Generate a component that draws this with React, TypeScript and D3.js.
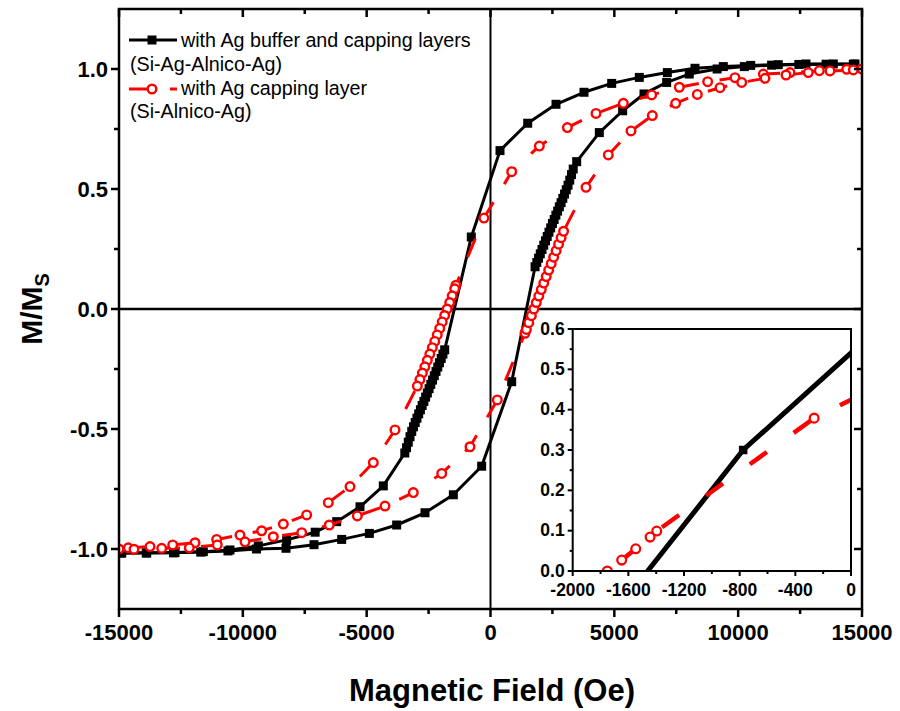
import React from 'react';
import * as d3 from 'd3';

// Black: with Ag buffer and capping layers (H in Oe, M/Ms)
const blackDown: [number, number][] = [
  [14717, 1.021], [13841, 1.021], [12738, 1.021], [11620, 1.018], [10506, 1.015], [9400, 1.01],
  [8257, 1.003], [7140, 0.985], [6008, 0.965], [4893, 0.94], [3775, 0.903], [2645, 0.853],
  [1502, 0.774], [384, 0.66], [-775, 0.3],
  [-1850, -0.17], [-1920, -0.188], [-1990, -0.206], [-2060, -0.224], [-2130, -0.242], [-2200, -0.26],
  [-2270, -0.278], [-2340, -0.296], [-2410, -0.314], [-2480, -0.332], [-2550, -0.35], [-2620, -0.367],
  [-2690, -0.385], [-2760, -0.402], [-2830, -0.42], [-2900, -0.437], [-2970, -0.455], [-3040, -0.473],
  [-3110, -0.491], [-3180, -0.51], [-3250, -0.532], [-3320, -0.555], [-3390, -0.578], [-3460, -0.6],
  [-4328, -0.737], [-5269, -0.824], [-6211, -0.886], [-7080, -0.93], [-8230, -0.962], [-9375, -0.987],
  [-10518, -1.004], [-11596, -1.011], [-12739, -1.015], [-13881, -1.016], [-14890, -1.017],
];

const blackUp: [number, number][] = [
  [-14950, -1.017], [-13900, -1.017], [-12800, -1.016], [-11700, -1.013], [-10600, -1.008], [-9450, -1.0],
  [-8257, -0.997], [-7127, -0.982], [-6009, -0.96], [-4892, -0.935], [-3789, -0.9], [-2645, -0.849],
  [-1500, -0.774], [-357, -0.655], [855, -0.303],
  [1800, 0.176], [1870, 0.194], [1940, 0.212], [2010, 0.23], [2080, 0.248], [2150, 0.266],
  [2220, 0.284], [2290, 0.302], [2360, 0.32], [2430, 0.338], [2500, 0.356], [2570, 0.373],
  [2640, 0.391], [2710, 0.408], [2780, 0.426], [2850, 0.443], [2920, 0.461], [2990, 0.479],
  [3060, 0.497], [3130, 0.516], [3200, 0.537], [3270, 0.56], [3340, 0.583], [3480, 0.614],
  [4394, 0.735], [5336, 0.826], [6198, 0.896], [7113, 0.944], [8026, 0.979], [9150, 1.0],
  [10250, 1.01], [11350, 1.016], [12450, 1.019], [13550, 1.02], [14650, 1.02],
];

// Red: with Ag capping layer
const redDown: [number, number][] = [
  [15000, 1.0], [14383, 0.999], [13277, 0.993], [12093, 0.985], [11016, 0.979], [9872, 0.964],
  [8768, 0.947], [7623, 0.924], [6508, 0.892], [5363, 0.857], [4260, 0.815], [3103, 0.756],
  [1972, 0.679], [855, 0.572], [-265, 0.379],
  [-1396, 0.099], [-1444, 0.084], [-1547, 0.055], [-1648, 0.027], [-1751, 0.0], [-1850, -0.027],
  [-1950, -0.054], [-2050, -0.081], [-2150, -0.108], [-2250, -0.135], [-2350, -0.161], [-2450, -0.188],
  [-2550, -0.214], [-2650, -0.241], [-2750, -0.267], [-2850, -0.294], [-2954, -0.321],
  [-3856, -0.504], [-4731, -0.64], [-5673, -0.74], [-6549, -0.807], [-7422, -0.858], [-8365, -0.896],
  [-9240, -0.924], [-10115, -0.942], [-11056, -0.96], [-11931, -0.974], [-12832, -0.983],
  [-13748, -0.99], [-14624, -0.995],
];

const redUp: [number, number][] = [
  [-15000, -1.0], [-14394, -1.001], [-13276, -0.997], [-12162, -0.995], [-11031, -0.983], [-9912, -0.97],
  [-8770, -0.949], [-7623, -0.932], [-6509, -0.9], [-5378, -0.862], [-4260, -0.821], [-3117, -0.765],
  [-1970, -0.685], [-828, -0.574], [275, -0.379],
  [1393, -0.101], [1450, -0.085], [1545, -0.057], [1650, -0.028], [1750, 0.0], [1850, 0.027],
  [1950, 0.054], [2050, 0.081], [2150, 0.108], [2250, 0.135], [2350, 0.162], [2450, 0.189],
  [2550, 0.216], [2650, 0.243], [2750, 0.27], [2850, 0.297], [2950, 0.324],
  [3856, 0.507], [4757, 0.642], [5673, 0.742], [6533, 0.806], [7477, 0.857], [8351, 0.894],
  [9267, 0.922], [10143, 0.944], [11083, 0.961], [11931, 0.975], [12832, 0.985],
  [13708, 0.992], [14650, 0.996],
];

const xTicksMain = [-15000, -10000, -5000, 0, 5000, 10000, 15000];
const xMinorMain = [-12500, -7500, -2500, 2500, 7500, 12500];
const yTicksMain = [-1.0, -0.5, 0.0, 0.5, 1.0];
const yMinorMain = [-0.75, -0.25, 0.25, 0.75];
const insetXTicks = [-2000, -1600, -1200, -800, -400, 0];
const insetXMinor = [-1800, -1400, -1000, -600, -200];
const insetYTicks = [0, 0.1, 0.2, 0.3, 0.4, 0.5, 0.6];
const insetYMinor = [0.05, 0.15, 0.25, 0.35, 0.45, 0.55];
const legendText = [
  'with Ag buffer and capping layers',
  '(Si-Ag-Alnico-Ag)',
  'with Ag capping layer',
  '(Si-Alnico-Ag)',
];

const FONT = "'Liberation Sans', Arial, Helvetica, sans-serif";
const RED = '#ff0000';

export default function App() {
  const L = 119, R = 862, T = 9, B = 609;
  const x = d3.scaleLinear().domain([-15000, 15000]).range([L, R]);
  const y = d3.scaleLinear().domain([-1.25, 1.25]).range([B, T]);
  const line = d3.line<[number, number]>().x((d) => x(d[0])).y((d) => y(d[1]));

  const iL = 572.7, iR = 851, iT = 329, iB = 571;
  const xi = d3.scaleLinear().domain([-2000, 0]).range([iL, iR]);
  const yi = d3.scaleLinear().domain([0, 0.6]).range([iB, iT]);
  const lineI = d3.line<[number, number]>().x((d) => xi(d[0])).y((d) => yi(d[1]));

  const sq = 9;
  const sqI = 8.5;

  const squares = (data: [number, number][], key: string) =>
    data.map((d, i) => (
      <rect key={key + i} x={x(d[0]) - sq / 2} y={y(d[1]) - sq / 2} width={sq} height={sq} fill="#000" />
    ));
  const circles = (data: [number, number][], key: string) =>
    data.map((d, i) => (
      <circle key={key + i} cx={x(d[0])} cy={y(d[1])} r={4.3} fill="#fff" stroke={RED} strokeWidth={2.4} />
    ));
  const inRange = (d: [number, number]) => d[0] >= -2100 && d[0] <= 100 && d[1] >= -0.05 && d[1] <= 0.65;

  return (
    <svg width={900} height={711} style={{ position: 'absolute', left: 0, top: 0, display: 'block', background: '#fff' }}
      fontFamily={FONT}>
      <defs>
        <clipPath id="mainClip"><rect x={L} y={T} width={R - L} height={B - T} /></clipPath>
        <clipPath id="insetClip"><rect x={iL} y={iT} width={iR - iL} height={iB - iT} /></clipPath>
      </defs>
      <rect x={0} y={0} width={900} height={711} fill="#fff" />

      {/* zero lines */}
      <line x1={x(0)} x2={x(0)} y1={T} y2={B} stroke="#000" strokeWidth={2} />
      <line x1={L} x2={R} y1={y(0)} y2={y(0)} stroke="#000" strokeWidth={2.5} />

      {/* data */}
      <g clipPath="url(#mainClip)">
        <path d={line(blackDown) || ''} fill="none" stroke="#000" strokeWidth={3} strokeLinejoin="round" />
        <path d={line(blackUp) || ''} fill="none" stroke="#000" strokeWidth={3} strokeLinejoin="round" />
        {squares(blackDown, 'bd')}
        {squares(blackUp, 'bu')}
        <path d={line(redDown) || ''} fill="none" stroke={RED} strokeWidth={3} strokeDasharray="20 21" />
        <path d={line(redUp) || ''} fill="none" stroke={RED} strokeWidth={3} strokeDasharray="20 21" />
        {circles(redDown, 'rd')}
        {circles(redUp, 'ru')}
      </g>

      {/* main frame */}
      <rect x={L} y={T} width={R - L} height={B - T} fill="none" stroke="#000" strokeWidth={2.5} />

      {/* bottom ticks & labels */}
      {xTicksMain.map((v) => (
        <g key={'xt' + v}>
          <line x1={x(v)} x2={x(v)} y1={B} y2={B + 8} stroke="#000" strokeWidth={2.5} />
          <line x1={x(v)} x2={x(v)} y1={T} y2={T + 8} stroke="#000" strokeWidth={2.5} />
          <text x={x(v)} y={640} textAnchor="middle" fontSize={22} fontWeight="bold">{String(v)}</text>
        </g>
      ))}
      {xMinorMain.map((v) => (
        <g key={'xm' + v}>
          <line x1={x(v)} x2={x(v)} y1={B} y2={B + 5} stroke="#000" strokeWidth={2.5} />
          <line x1={x(v)} x2={x(v)} y1={T} y2={T + 5} stroke="#000" strokeWidth={2.5} />
        </g>
      ))}
      {yTicksMain.map((v) => (
        <g key={'yt' + v}>
          <line x1={L - 8} x2={L} y1={y(v)} y2={y(v)} stroke="#000" strokeWidth={2.5} />
          <line x1={R - 8} x2={R} y1={y(v)} y2={y(v)} stroke="#000" strokeWidth={2.5} />
          <text x={108} y={y(v) + 8} textAnchor="end" fontSize={22} fontWeight="bold">{v.toFixed(1)}</text>
        </g>
      ))}
      {yMinorMain.map((v) => (
        <g key={'ym' + v}>
          <line x1={L - 5} x2={L} y1={y(v)} y2={y(v)} stroke="#000" strokeWidth={2.5} />
          <line x1={R - 5} x2={R} y1={y(v)} y2={y(v)} stroke="#000" strokeWidth={2.5} />
        </g>
      ))}

      {/* axis titles */}
      <text x={492} y={701} textAnchor="middle" fontSize={31} fontWeight="bold">Magnetic Field (Oe)</text>
      <text transform="translate(42,309) rotate(-90)" textAnchor="middle" fontSize={30} fontWeight="bold">
        M/M<tspan fontSize={20} dy={7}>S</tspan>
      </text>

      {/* legend */}
      <line x1={129} x2={177} y1={40} y2={40} stroke="#000" strokeWidth={3} />
      <rect x={152 - sq / 2} y={40 - sq / 2} width={sq} height={sq} fill="#000" />
      <text x={181} y={47} fontSize={19.7}>{legendText[0]}</text>
      <text x={130} y={71} fontSize={19.7}>{legendText[1]}</text>
      <line x1={129} x2={177} y1={89} y2={89} stroke={RED} strokeWidth={3} strokeDasharray="20 21" />
      <circle cx={152} cy={89} r={4.3} fill="#fff" stroke={RED} strokeWidth={2.4} />
      <text x={181} y={95} fontSize={19.7}>{legendText[2]}</text>
      <text x={130} y={118} fontSize={19.7}>{legendText[3]}</text>

      {/* inset */}
      <rect x={iL} y={iT} width={iR - iL} height={iB - iT} fill="#fff" />
      <g clipPath="url(#insetClip)">
        <path d={lineI(blackDown) || ''} fill="none" stroke="#000" strokeWidth={5} />
        {blackDown.filter(inRange).map((d, i) => (
          <rect key={'ib' + i} x={xi(d[0]) - sqI / 2} y={yi(d[1]) - sqI / 2} width={sqI} height={sqI} fill="#000" />
        ))}
        <path d={lineI(redDown) || ''} fill="none" stroke={RED} strokeWidth={4.5} strokeDasharray="21 33" />
        {redDown.filter(inRange).map((d, i) => (
          <circle key={'ir' + i} cx={xi(d[0])} cy={yi(d[1])} r={4.4} fill="#fff" stroke={RED} strokeWidth={2.3} />
        ))}
      </g>
      <rect x={iL} y={iT} width={iR - iL} height={iB - iT} fill="none" stroke="#000" strokeWidth={2} />
      {insetXTicks.map((v) => (
        <g key={'ixt' + v}>
          <line x1={xi(v)} x2={xi(v)} y1={iB} y2={iB + 5} stroke="#000" strokeWidth={2} />
          <text x={xi(v)} y={iB + 25} textAnchor="middle" fontSize={17.5} fontWeight="bold">{String(v)}</text>
        </g>
      ))}
      {insetXMinor.map((v) => (
        <line key={'ixm' + v} x1={xi(v)} x2={xi(v)} y1={iB} y2={iB + 3} stroke="#000" strokeWidth={2} />
      ))}
      {insetYTicks.map((v) => (
        <g key={'iyt' + v}>
          <line x1={iL - 5} x2={iL} y1={yi(v)} y2={yi(v)} stroke="#000" strokeWidth={2} />
          <text x={iL - 8} y={yi(v) + 5.5} textAnchor="end" fontSize={17.5} fontWeight="bold">{v.toFixed(1)}</text>
        </g>
      ))}
      {insetYMinor.map((v) => (
        <line key={'iym' + v} x1={iL - 3} x2={iL} y1={yi(v)} y2={yi(v)} stroke="#000" strokeWidth={2} />
      ))}
    </svg>
  );
}
